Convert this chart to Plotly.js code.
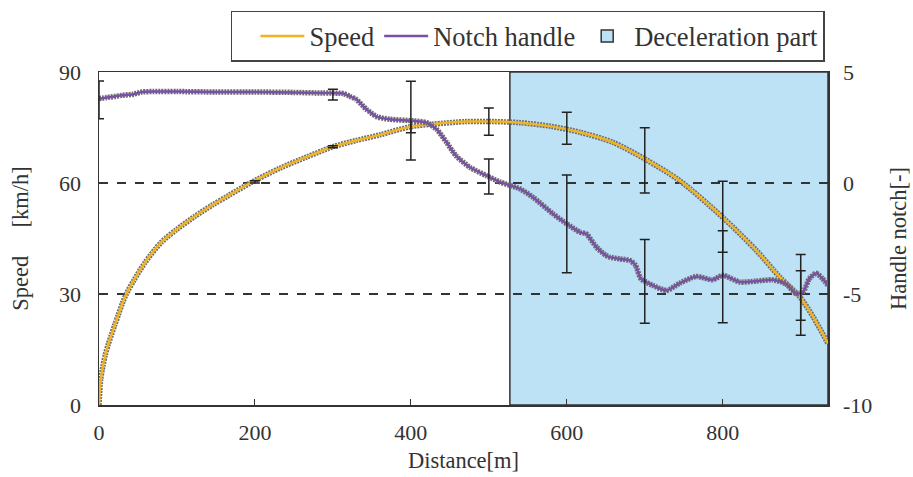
<!DOCTYPE html>
<html>
<head>
<meta charset="utf-8">
<script src="https://cdn.plot.ly/plotly-3.0.1.min.js"></script>
<style>html,body{margin:0;padding:0;background:#fff}#chart{width:913px;height:477px}</style>
</head>
<body>
<div id="chart"></div>
<script>
// ---- data ----
var speedDist = [0, 2, 5, 8, 12, 16, 20, 25, 30, 35, 45, 59, 80, 100, 123, 145, 166, 194, 232, 266, 300, 330, 360, 399, 428, 471, 505, 540, 580, 617, 659, 700, 745, 800, 843, 873, 899, 916, 935];
var speedVal  = [0, 6.5, 10.5, 13.5, 16.5, 19, 21.5, 24.5, 27.5, 30, 33.8, 38.5, 44, 47.5, 51, 54, 56.6, 60, 64, 67, 69.8, 71.5, 73, 75.2, 75.9, 76.6, 76.6, 76.3, 75.3, 73.7, 71, 66.5, 60.6, 50.7, 41.8, 34.6, 29.2, 23.8, 16.6];

var notchDist = [0, 10, 20, 30, 44, 55, 70, 100, 150, 200, 250, 287, 313, 322, 330, 343, 356, 373, 403, 420, 433, 446, 458, 476, 497, 514, 540, 557, 582, 600, 617, 625, 638, 650, 655, 668, 681, 688, 695, 710, 728, 745, 766, 787, 800, 822, 843, 864, 881, 894, 903, 911, 920, 928, 935];
var notchVal  = [3.8, 3.85, 3.9, 3.95, 4.0, 4.1, 4.12, 4.12, 4.1, 4.1, 4.08, 4.05, 4.03, 3.9, 3.77, 3.32, 2.99, 2.87, 2.8, 2.72, 2.42, 1.82, 1.22, 0.7, 0.33, 0.05, -0.27, -0.65, -1.38, -1.84, -2.22, -2.29, -2.89, -3.26, -3.34, -3.42, -3.49, -3.7, -4.31, -4.61, -4.84, -4.51, -4.21, -4.36, -4.16, -4.46, -4.42, -4.36, -4.54, -4.98, -4.91, -4.31, -4.06, -4.31, -4.61];

var speedErrDist = [200, 300, 400, 500, 600, 700, 800, 900];
var speedErrMid  = [60.3, 69.8, 75.2, 76.6, 74.8, 66.1, 50.9, 29.6];
var speedErrSize = [0.3, 0.3, 1.6, 3.7, 4.3, 8.8, 9.6, 6.7];

var notchErrDist = [0, 300, 400, 500, 600, 700, 800, 900];
var notchErrMid  = [3.74, 3.98, 2.81, 0.29, -1.84, -4.43, -4.22, -5.04];
var notchErrSize = [0.85, 0.24, 1.77, 0.79, 2.2, 1.89, 2.07, 1.82];

var decelStart = 527;
var decelEnd = 935;

var xTicks = [0, 200, 400, 600, 800];
var yTicks = [0, 30, 60, 90];
var y2Ticks = [-10, -5, 0, 5];
var y2TickText = ['-10', '-5', '0', '5'];

// ---- styles ----
var FONT = 'Liberation Serif, "Times New Roman", serif';
var TXT = '#333';
var SPEED_C = '#f0b323';
var NOTCH_C = '#7a4fa6';
var HALO = '#6e6e6e';
var BLUE = '#bde2f6';

var traces = [
  {x: speedDist, y: speedVal, mode: 'lines', line: {color: HALO, width: 5.5, shape: 'spline', smoothing: 0.8, dash: '2px,1px'}, showlegend: false, hoverinfo: 'skip'},
  {x: speedDist, y: speedVal, mode: 'lines', name: 'Speed', line: {color: SPEED_C, width: 2.5, shape: 'spline', smoothing: 0.8}, legendrank: 1},
  {x: speedErrDist, y: speedErrMid, mode: 'markers', marker: {color: 'rgba(0,0,0,0)', size: 1}, showlegend: false,
   error_y: {type: 'data', array: speedErrSize, visible: true, color: '#222', thickness: 1.5, width: 5}},
  {x: notchDist, y: notchVal, yaxis: 'y2', mode: 'lines', line: {color: HALO, width: 5.5, shape: 'spline', smoothing: 0.6, dash: '2px,1px'}, showlegend: false, hoverinfo: 'skip'},
  {x: notchDist, y: notchVal, yaxis: 'y2', mode: 'lines', name: 'Notch handle', line: {color: NOTCH_C, width: 2.5, shape: 'spline', smoothing: 0.6}, legendrank: 2},
  {x: notchErrDist, y: notchErrMid, yaxis: 'y2', mode: 'markers', marker: {color: 'rgba(0,0,0,0)', size: 1}, showlegend: false,
   error_y: {type: 'data', array: notchErrSize, visible: true, color: '#222', thickness: 1.5, width: 5}}
];

var layout = {
  width: 913, height: 477,
  margin: {l: 99, r: 85, t: 71, b: 72},
  paper_bgcolor: '#fff', plot_bgcolor: '#fff',
  font: {family: FONT, color: TXT, size: 22},
  showlegend: true,
  legend: {
    orientation: 'h', x: 0.588, xanchor: 'center', y: 1.18, yanchor: 'top',
    bgcolor: '#fff', bordercolor: '#444', borderwidth: 1.5, itemwidth: 44,
    font: {family: FONT, size: 26.5, color: TXT},
    title: {text: '\u00a0\u00a0', side: 'left', font: {family: FONT, size: 26.5}}
  },
  xaxis: {
    range: [0, decelEnd], tickvals: xTicks, ticks: 'inside', ticklen: 6, tickcolor: '#333',
    showline: true, mirror: true, linecolor: '#333', linewidth: 1.5, showgrid: false, zeroline: false,
    ticklabelstandoff: 7,
    title: {text: 'Distance[m]', font: {family: FONT, size: 22.5, color: TXT}, standoff: 8}
  },
  yaxis: {
    range: [0, 90], tickvals: yTicks, ticks: 'inside', ticklen: 6, tickcolor: '#333',
    showline: true, mirror: true, linecolor: '#333', linewidth: 1.5, zeroline: false,
    showgrid: true, gridcolor: '#333', gridwidth: 1.3, griddash: 'dash',
    ticklabelstandoff: 12,
    title: {text: 'Speed\u00a0\u00a0\u00a0\u00a0\u00a0[km/h]', font: {family: FONT, size: 22.5, color: TXT}, standoff: 24}
  },
  yaxis2: {
    overlaying: 'y', side: 'right', range: [-10, 5], tickvals: y2Ticks, ticktext: y2TickText, ticks: '',
    showgrid: false, zeroline: false, showline: false,
    ticklabelstandoff: 14,
    title: {text: 'Handle notch[-]', font: {family: FONT, size: 22.5, color: TXT}, standoff: 18}
  },
  shapes: [{
    type: 'rect', xref: 'x', yref: 'paper', x0: decelStart, x1: decelEnd, y0: 0, y1: 1,
    fillcolor: BLUE, line: {color: '#333', width: 1.5}, layer: 'below',
    showlegend: true, name: 'Deceleration part', legendrank: 3
  }]
};

Plotly.newPlot('chart', traces, layout, {staticPlot: true, displayModeBar: false});
</script>
</body>
</html>
